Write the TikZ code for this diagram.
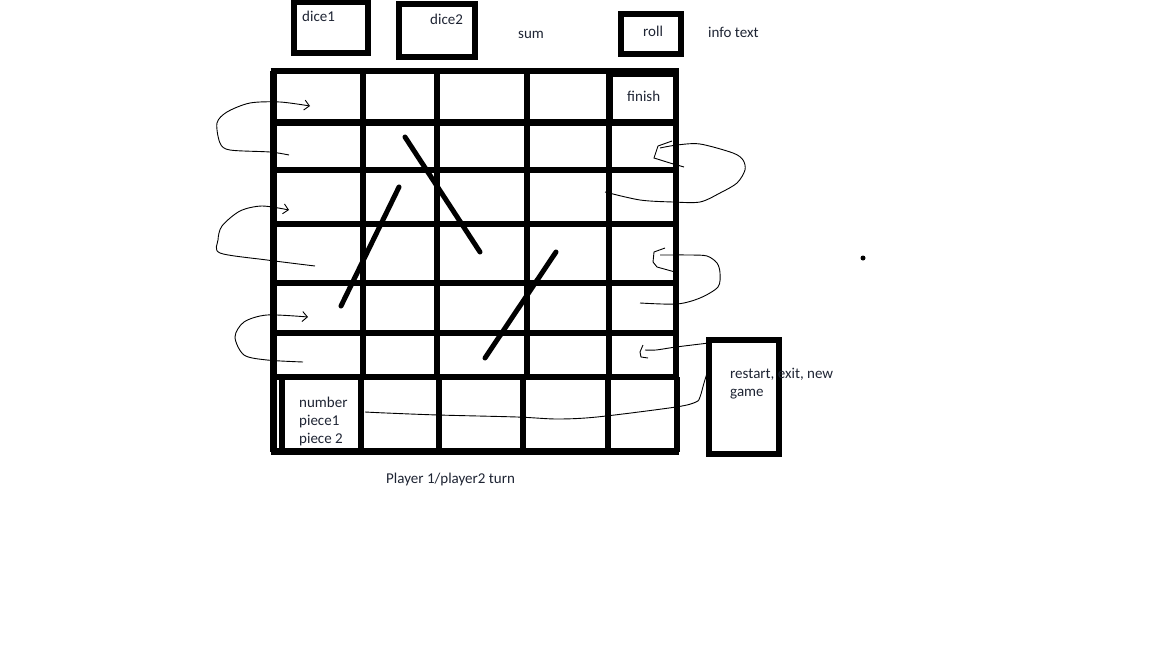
\documentclass[tikz,border=0pt]{standalone}
\usepackage{fontspec}
\setmainfont{Carlito}
\usepackage{tikz}
\usetikzlibrary{arrows.meta}
\definecolor{skink}{HTML}{1E2433}

\begin{document}
\begin{tikzpicture}[x=1pt, y=-1pt,
  txt/.style={font=\fontsize{15}{18}\selectfont, text=skink, inner sep=0pt, anchor=west, align=left},
  box/.style={draw, line width=6pt, anchor=north west, inner sep=0pt, outer sep=0pt},
  grid/.style={line width=6.5pt},
  rung/.style={line width=5pt, line cap=round},
  hand/.style={line width=0.9pt},
  barb/.style={-{Straight Barb[length=5pt,width=10pt]}}
]
  \useasboundingbox (0,0) rectangle (1152,648);

  % top bar
  \node[box, minimum width=74pt, minimum height=51pt] (dicea) at (293.5,1.5) {};
  \node[box, minimum width=76pt, minimum height=53pt] (diceb) at (398.5,4) {};
  \node[box, minimum width=60pt, minimum height=40pt] (roll) at (621,14) {};
  \node[txt] (diceatxt) at (302,16) {dice1};
  \node[txt] (dicebtxt) at (430,19) {dice2};
  \node[txt] (sum) at (518,35) {sum};
  \node[txt] (rolltxt) at (643,31) {roll};
  \node[txt] (info) at (708,32) {info text};

  % board
  \foreach \y in {71,122.5,170,224,283,333,377,451.5}
    \draw[grid] (270.5,\y) -- (679,\y);
  \foreach \x in {273.5,363,437,527,609,676}
    \draw[grid] (\x,71) -- (\x,377);
  \foreach \x in {273.5,282,361,439,523,608,677}
    \draw[grid] (\x,377) -- (\x,451.5);
  \draw[grid] (610,74) rectangle (676,122);
  \node[txt] (finish) at (627,96) {finish};

  % ladders and snakes
  \draw[rung] (405,137) -- (480,252);
  \draw[rung] (399,187) -- (341,306);
  \draw[rung] (556,252) -- (485,358);

  % turns along the rows
  \draw[hand, barb] plot[smooth] coordinates {(289,155) (270,152) (230,150) (220,143) (217,123) (227,112) (250,103) (280,102) (310,106)};
  \draw[hand, barb] plot[smooth] coordinates {(315,266) (267,260) (220,253) (218,240) (222,226) (240,211) (262,206) (289,210)};
  \draw[hand, barb] plot[smooth] coordinates {(303,362) (267,360) (244,355) (235,337) (244,322) (267,315) (308,317)};
  \draw[hand] plot[smooth] coordinates {(605,192) (640,200) (673,202) (700,202) (720,193) (737,183) (745,170) (743,160) (733,153) (700,144) (677,145) (660,148)};
  \draw[hand] (672,141) -- (658,146) -- (654,158) -- (670,163) -- (684,167);
  \draw[hand] plot[smooth] coordinates {(640,303) (677,304) (700,298) (718,287) (720,273) (717,263) (707,256) (690,255) (660,255)};
  \draw[hand] (665,248) -- (654,252) -- (653,262) -- (657,267) -- (675,272);

  % menu box
  \node[box, minimum width=70pt, minimum height=114pt] (menu) at (709,340) {};
  \node[txt] (menutxt) at (730,383.5) {restart, exit, new\\game};
  \draw[hand] plot[smooth] coordinates {(menu.west |- 0,343) (676,347) (656,350) (645,350)};
  \draw[hand] (643,345) -- (640,352) -- (641,357) -- (648,358);
  \draw[hand] plot[smooth] coordinates {(365,412) (386,413) (438,415) (517,417) (557,419) (597,417) (676,407) (696,402) (700,397) (704,383) (708,370)};

  % bottom texts
  \node[txt] (pieces) at (299,421) {number\\piece1\\piece 2};
  \node[txt] (turn) at (386,479) {Player 1/player2 turn};
  \fill (863,258) circle (2.5pt);
\end{tikzpicture}
\end{document}
